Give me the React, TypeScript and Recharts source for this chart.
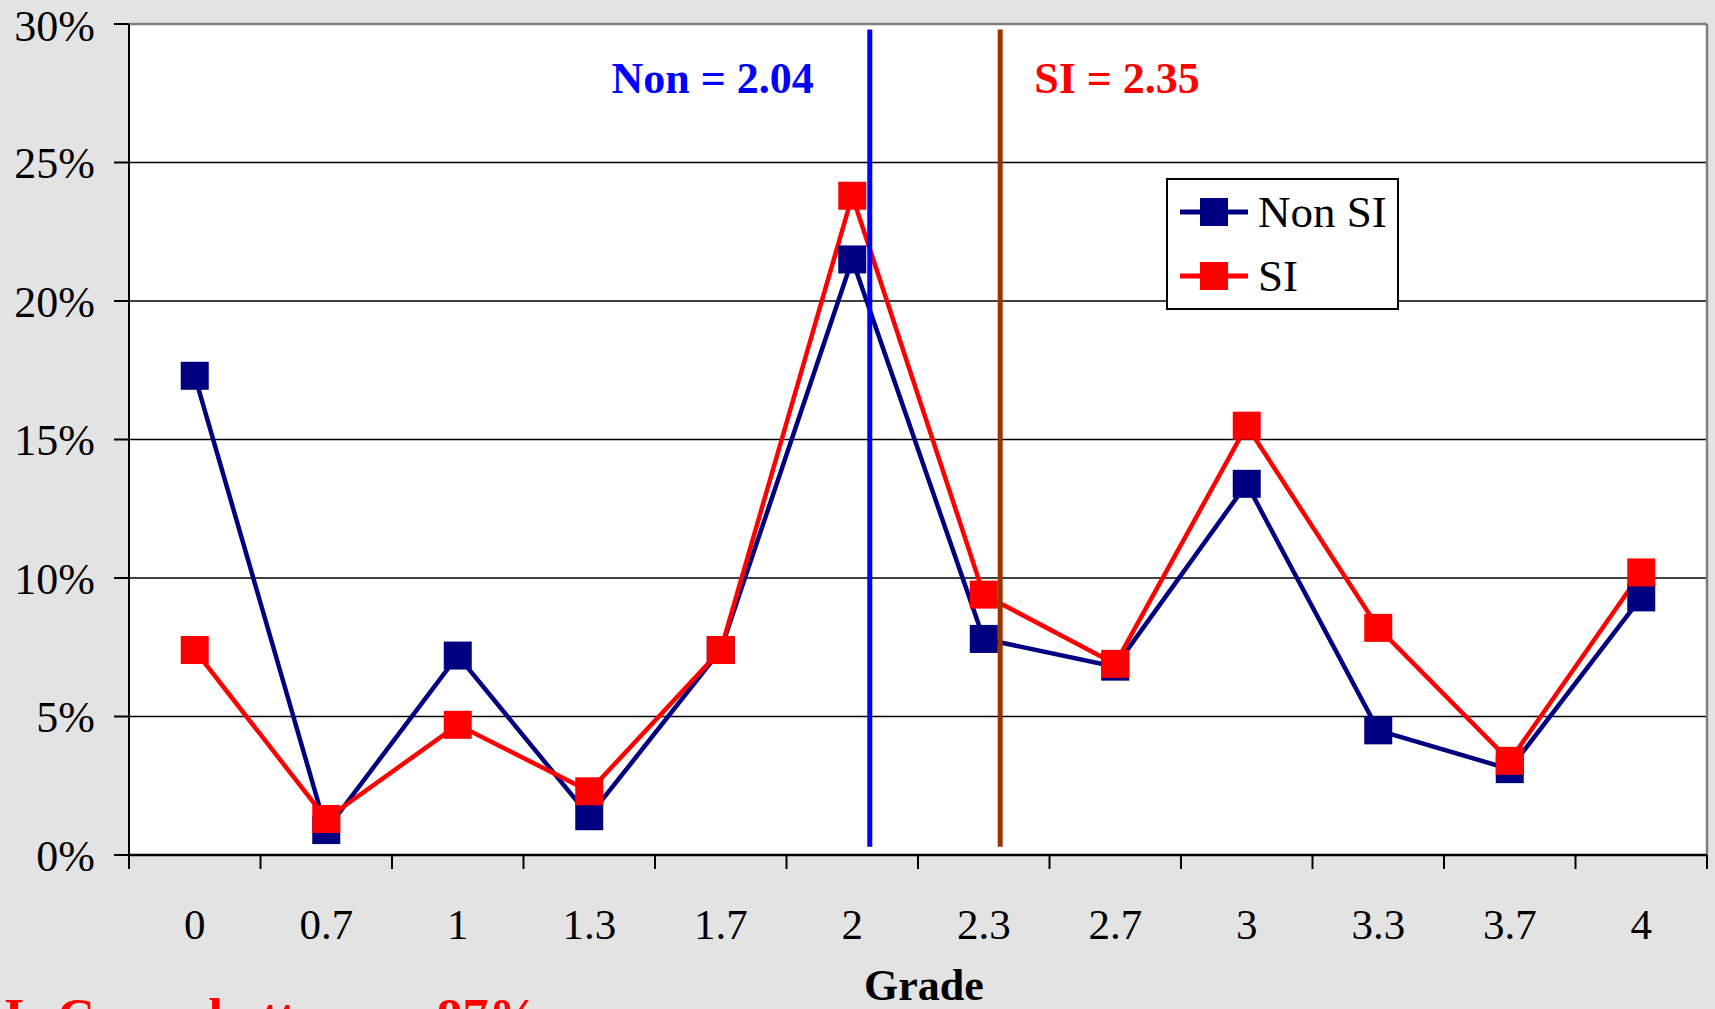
import {
  LineChart,
  Line,
  CartesianGrid,
  XAxis,
  YAxis,
  Label,
  Legend,
  ReferenceLine,
} from "recharts";

// grade categories along the x axis
const grades = ["0", "0.7", "1", "1.3", "1.7", "2", "2.3", "2.7", "3", "3.3", "3.7", "4"];
// share of students per grade, in percent
const nonSI = [17.3, 0.9, 7.2, 1.4, 7.4, 21.5, 7.8, 6.8, 13.4, 4.5, 3.1, 9.3];
const si = [7.4, 1.3, 4.7, 2.3, 7.4, 23.8, 9.4, 6.9, 15.5, 8.2, 3.4, 10.2];
const yTicks = [0, 5, 10, 15, 20, 25, 30];
// mean grades for each group
const nonMean = 2.04;
const siMean = 2.35;
const noteText = "I C or better = 87%";

const FONT = "'Liberation Serif', 'Times New Roman', serif";

const data = grades.map((g, i) => ({ idx: i, grade: g, non: nonSI[i], si: si[i] }));

// place a grade value on the category index axis by interpolating between categories
function gradeToIndex(g: number) {
  const nums = grades.map(Number);
  for (let i = 0; i < nums.length - 1; i++) {
    if (g >= nums[i] && g <= nums[i + 1]) {
      return i + (g - nums[i]) / (nums[i + 1] - nums[i]);
    }
  }
  return nums.length - 1;
}

// tick marks sit between categories, labels on the categories
const xTicks: number[] = [];
for (let i = -0.5; i <= grades.length - 0.5; i += 0.5) xTicks.push(i);

function GradeTick(props: any) {
  const { x, y, payload } = props;
  const v = payload.value;
  if (Number.isInteger(v)) {
    return (
      <text x={x} y={y + 84} textAnchor="middle" fontSize={43} fontFamily={FONT} fill="#000">
        {grades[v]}
      </text>
    );
  }
  return <line x1={x} x2={x} y1={y} y2={y + 14} stroke="#000" strokeWidth={2} />;
}

function squareDot(props: any) {
  const { cx, cy, stroke, index } = props;
  return <rect key={index} x={cx - 14} y={cy - 14} width={28} height={28} fill={stroke} />;
}

function renderLegend(props: any) {
  const { payload } = props;
  return (
    <div
      style={{
        background: "#fff",
        border: "2px solid #000",
        width: 233,
        height: 132,
        boxSizing: "border-box",
      }}
    >
      {payload.map((entry: any) => (
        <div key={entry.value} style={{ display: "flex", alignItems: "center", height: 64 }}>
          <svg width={78} height={30} style={{ marginLeft: 12, flexShrink: 0 }}>
            <line x1={0} x2={68} y1={15} y2={15} stroke={entry.color} strokeWidth={5} />
            <rect x={20} y={1} width={28} height={28} fill={entry.color} />
          </svg>
          <span
            style={{
              fontFamily: FONT,
              fontSize: 45,
              color: "#000",
              lineHeight: 1,
              whiteSpace: "nowrap",
            }}
          >
            {entry.value}
          </span>
        </div>
      ))}
    </div>
  );
}

export default function App() {
  const nonX = gradeToIndex(nonMean);
  const siX = gradeToIndex(siMean);
  return (
    <div
      style={{
        position: "fixed",
        top: 0,
        left: 0,
        width: 1715,
        height: 1009,
        background: "#e3e3e3",
        overflow: "hidden",
      }}
    >
      <LineChart
        width={1715}
        height={1009}
        data={data}
        margin={{ top: 24, right: 8, bottom: 54, left: 9 }}
      >
        <CartesianGrid vertical={false} stroke="#000" strokeWidth={1.5} fill="#fff" />
        <XAxis
          dataKey="idx"
          type="number"
          domain={[-0.5, grades.length - 0.5]}
          ticks={xTicks}
          interval={0}
          tick={<GradeTick />}
          tickLine={false}
          tickSize={0}
          tickMargin={0}
          height={100}
          axisLine={{ stroke: "#000", strokeWidth: 2.5 }}
        >
          <Label
            content={(p: any) => (
              <text
                x={p.viewBox.x + p.viewBox.width / 2 + 6}
                y={p.viewBox.y + 145}
                textAnchor="middle"
                fontSize={44}
                fontWeight="bold"
                fontFamily={FONT}
                fill="#000"
              >
                Grade
              </text>
            )}
          />
          <Label
            content={(p: any) => (
              <text
                x={4}
                y={p.viewBox.y + 180}
                fontSize={52}
                fontWeight="bold"
                fontFamily={FONT}
                fill="#ff0000"
                style={{ wordSpacing: 20 }}
              >
                {noteText}
              </text>
            )}
          />
        </XAxis>
        <YAxis
          domain={[0, 30]}
          ticks={yTicks}
          width={120}
          tickFormatter={(v: number) => `${v}%`}
          tickSize={15}
          tickMargin={19}
          tickLine={{ stroke: "#000", strokeWidth: 2 }}
          axisLine={{ stroke: "#000", strokeWidth: 2 }}
          tick={{ fontSize: 44, fontFamily: FONT, fill: "#000" }}
        />
        <ReferenceLine y={30} stroke="#808080" strokeWidth={2.5} />
        <ReferenceLine x={grades.length - 0.5} stroke="#808080" strokeWidth={2.5} />
        <Legend
          layout="horizontal"
          verticalAlign="middle"
          align="center"
          content={renderLegend}
          wrapperStyle={{ position: "absolute", left: 1166, top: 178, width: 233, height: 132 }}
        />
        <Line
          name="Non SI"
          dataKey="non"
          stroke="#000080"
          strokeWidth={4.5}
          dot={squareDot}
          activeDot={false}
          isAnimationActive={false}
        />
        <Line
          name="SI"
          dataKey="si"
          stroke="#ff0000"
          strokeWidth={4.5}
          dot={squareDot}
          activeDot={false}
          isAnimationActive={false}
        />
        <ReferenceLine
          segment={[
            { x: nonX, y: 0.3 },
            { x: nonX, y: 29.8 },
          ]}
          stroke="#0000ff"
          strokeWidth={5}
          label={(p: any) => (
            <text
              x={p.viewBox.x - 56}
              y={93}
              textAnchor="end"
              fontSize={44}
              fontWeight="bold"
              fontFamily={FONT}
              fill="#0000ff"
            >
              {`Non = ${nonMean.toFixed(2)}`}
            </text>
          )}
        />
        <ReferenceLine
          segment={[
            { x: siX, y: 0.3 },
            { x: siX, y: 29.8 },
          ]}
          stroke="#993300"
          strokeWidth={5}
          label={(p: any) => (
            <text
              x={p.viewBox.x + 34}
              y={93}
              textAnchor="start"
              fontSize={44}
              fontWeight="bold"
              fontFamily={FONT}
              fill="#ff0000"
            >
              {`SI = ${siMean.toFixed(2)}`}
            </text>
          )}
        />
      </LineChart>
    </div>
  );
}
